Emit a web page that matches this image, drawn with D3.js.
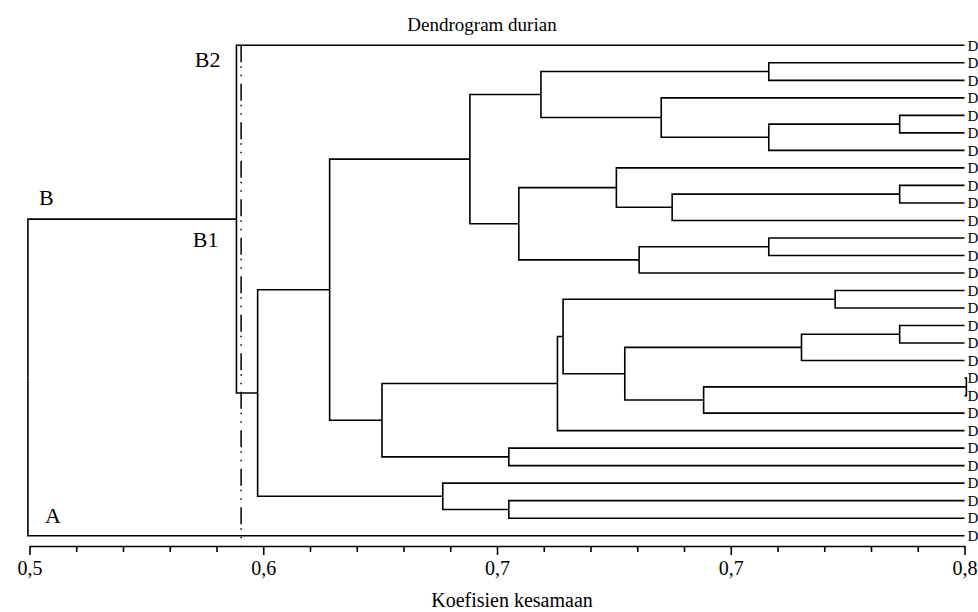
<!DOCTYPE html>
<html lang="id">
  <head>
    <meta charset="utf-8" />
    <title>Dendrogram durian</title>
    <script src="https://cdn.jsdelivr.net/npm/d3@7"></script>
    <style>
      body {
        margin: 0;
        background: #fff;
      }

      svg {
        display: block;
        font-family: "Liberation Serif", "DejaVu Serif", serif;
      }

      .link {
        fill: none;
        stroke: #000;
        stroke-width: 1.6;
      }

      .axis path,
      .axis line {
        stroke: #000;
        stroke-width: 1.6;
      }

      .axis text {
        font-family: "Liberation Serif", serif;
        font-size: 20px;
        fill: #000;
      }
    </style>
  </head>

  <body>
    <svg id="chart"></svg>

    <script>
      // leaves, top to bottom (names are cut off at the right edge of the figure)
      const leafLabels = [
        "D", "D", "D", "D", "D", "D", "D", "D", "D", "D",
        "D", "D", "D", "D", "D", "D", "D", "D", "D", "D",
        "D", "D", "D", "D", "D", "D", "D", "D", "D"
      ];

      // merge table: negative = leaf (1-based), positive = earlier merge (1-based)
      const mergeLeft = [-2, -5, 2, -4, 1, -9, 6, -8, -12, 9, 8, 5, -15, -17, 14, -20, 16, 15, 13, 19, -24, 20, 12, -27, -26, 23, -1, 27];
      const mergeRight = [-3, -6, -7, 3, 4, -10, -11, 7, -13, -14, 10, 11, -16, -18, -19, -21, -22, 17, 18, -23, -25, 21, 22, -28, 24, 25, 26, -29];
      const mergeHeight = [
        0.7372, 0.7792, 0.7372, 0.7027, 0.6641, 0.7792, 0.7062, 0.6883, 0.7372, 0.6956,
        0.657, 0.6413, 0.7585, 0.7792, 0.7477, 0.8006, 0.7163, 0.691, 0.6712, 0.6694,
        0.6538, 0.6131, 0.5963, 0.6538, 0.6326, 0.5732, 0.5664, 0.4995
      ];

      const leafValue = 0.8;
      const cutValue = 0.5679;

      const majorTicks = [0.5, 0.575, 0.65, 0.725, 0.8];
      const majorLabels = ["0,5", "0,6", "0,7", "0,7", "0,8"];
      const minorTicks = [
        0.515, 0.53, 0.545, 0.56, 0.59, 0.605, 0.62, 0.635,
        0.665, 0.68, 0.695, 0.71, 0.74, 0.755, 0.77, 0.785
      ];

      const title = "Dendrogram durian";
      const xTitle = "Koefisien kesamaan";

      /////////////////////////

      const width = 978;
      const height = 612;

      const svg = d3.select("#chart").attr("width", width).attr("height", height);

      const xscale = d3.scaleLinear().domain([0.5, 0.8]).range([29.5, 964.5]);
      const yscale = d3
        .scalePoint()
        .domain(d3.range(leafLabels.length))
        .range([45.3, 535.7]);
      const axisY = 546;

      // build the tree from the merge table
      const merges = [];
      function nodeFor(id) {
        if (id < 0) {
          return { name: leafLabels[-id - 1], height: leafValue };
        }
        return merges[id - 1];
      }
      mergeHeight.forEach((h, i) => {
        merges.push({ height: h, children: [nodeFor(mergeLeft[i]), nodeFor(mergeRight[i])] });
      });

      const root = d3.hierarchy(merges[merges.length - 1]);
      root.leaves().forEach((leaf, i) => {
        leaf.py = yscale(i);
      });
      root.eachAfter(n => {
        n.px = xscale(n.data.height);
        if (n.children) {
          n.py = (n.children[0].py + n.children[n.children.length - 1].py) / 2;
        }
      });

      // links
      svg
        .append("g")
        .selectAll("path")
        .data(root.links())
        .join("path")
        .attr("class", "link")
        .attr("d", d => `M${d.source.px},${d.source.py}V${d.target.py}H${d.target.px}`);

      // leaf labels
      svg
        .append("g")
        .selectAll("text")
        .data(root.leaves())
        .join("text")
        .attr("x", d => xscale(leafValue) + 3)
        .attr("y", d => d.py)
        .attr("dy", "0.35em")
        .style("font-size", "15px")
        .text(d => d.data.name);

      // cut line
      svg
        .append("line")
        .attr("x1", xscale(cutValue))
        .attr("x2", xscale(cutValue))
        .attr("y1", yscale(0))
        .attr("y2", axisY)
        .attr("stroke", "#000")
        .attr("stroke-width", 1.5)
        .attr("stroke-dasharray", "17,4,1.5,7,1.5,7.5");

      // group labels
      const nodeB = root.children[0];
      const leafA = root.children[1];
      const groups = svg.append("g").style("font-size", "22px");
      groups
        .append("text")
        .attr("x", nodeB.px - 16)
        .attr("y", yscale(0) + 22)
        .attr("text-anchor", "end")
        .text("B2");
      groups
        .append("text")
        .attr("x", root.px + 11)
        .attr("y", nodeB.py - 14)
        .text("B");
      groups
        .append("text")
        .attr("x", nodeB.px - 18)
        .attr("y", nodeB.py + 28)
        .attr("text-anchor", "end")
        .text("B1");
      groups
        .append("text")
        .attr("x", root.px + 17)
        .attr("y", leafA.py - 13)
        .text("A");

      // axis
      const xaxis = d3
        .axisBottom(xscale)
        .tickValues(majorTicks)
        .tickSize(9)
        .tickSizeOuter(0)
        .tickPadding(6)
        .tickFormat((d, i) => majorLabels[i]);
      svg.append("g").attr("class", "axis").attr("transform", `translate(0,${axisY})`).call(xaxis);

      const minorAxis = d3
        .axisBottom(xscale)
        .tickValues(minorTicks)
        .tickSize(6)
        .tickSizeOuter(0)
        .tickFormat("");
      svg
        .append("g")
        .attr("class", "axis")
        .attr("transform", `translate(0,${axisY})`)
        .call(minorAxis)
        .select(".domain")
        .remove();

      // titles
      svg
        .append("text")
        .attr("x", 482)
        .attr("y", 31)
        .attr("text-anchor", "middle")
        .style("font-size", "19px")
        .text(title);

      svg
        .append("text")
        .attr("x", 512)
        .attr("y", 607)
        .attr("text-anchor", "middle")
        .style("font-size", "20px")
        .text(xTitle);
    </script>
  </body>
</html>
